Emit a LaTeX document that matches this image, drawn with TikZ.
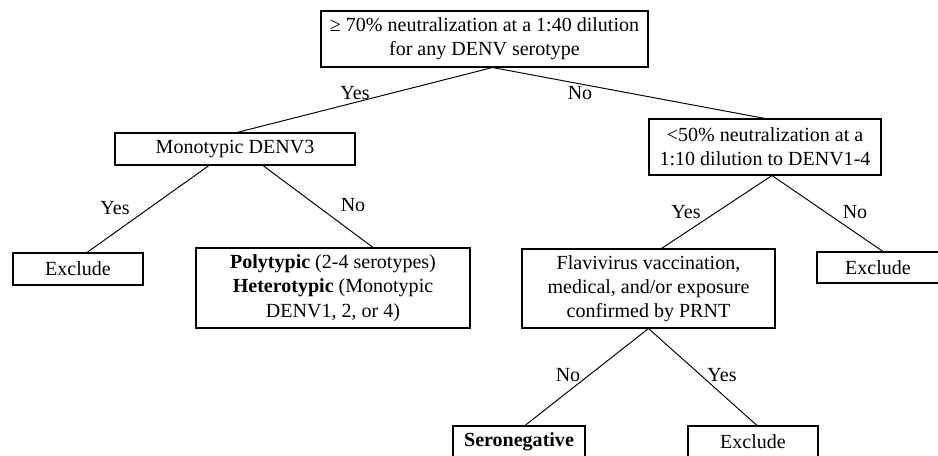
\documentclass[tikz,border=0pt]{standalone}
\usepackage{fontspec}
\setmainfont{Liberation Serif}
\usetikzlibrary{calc}

\begin{document}
\begin{tikzpicture}[x=0.02cm, y=-0.02cm,
  box/.style={draw, line width=0.6pt, align=center, font=\fontsize{11.4}{13.8}\selectfont,
              inner sep=1pt},
  lab/.style={font=\fontsize{11.4}{13.8}\selectfont, inner sep=1pt},
  ln/.style={line width=0.55pt}]
\useasboundingbox (0,0) rectangle (938,456);
\clip (0,0) rectangle (938,456);
% first question
\node[box, minimum width=327*0.02cm, minimum height=56*0.02cm] (top) at (484.5,39)
  {≥ 70\% neutralization at a 1:40 dilution\\for any DENV serotype};
% left branch
\node[box, minimum width=240*0.02cm, minimum height=32*0.02cm] (mono) at (235,149) {Monotypic DENV3};
\node[box, minimum width=130*0.02cm, minimum height=32*0.02cm] (excl1) at (78,269) {Exclude};
\node[box, minimum width=274*0.02cm, minimum height=80*0.02cm] (poly) at (333,288)
  {\textbf{Polytypic} (2-4 serotypes)\\\textbf{Heterotypic} (Monotypic\\DENV1, 2, or 4)};
% right branch
\node[box, minimum width=232*0.02cm, minimum height=56*0.02cm] (low) at (765,147)
  {<50\% neutralization at a\\1:10 dilution to DENV1-4};
\node[box, minimum width=253*0.02cm, minimum height=79*0.02cm] (flavi) at (648.5,288.5)
  {Flavivirus vaccination,\\medical, and/or exposure\\confirmed by PRNT};
\node[box, minimum width=122*0.02cm, minimum height=31*0.02cm] (excl2) at (878,267.5) {Exclude};
% bottom row
\node[box, minimum width=132*0.02cm, minimum height=32*0.02cm] (sero) at (519,442) {\textbf{Seronegative}};
\node[box, minimum width=130*0.02cm, minimum height=32*0.02cm] (excl3) at (753,442) {Exclude};
% connectors
\draw[ln] ($(top.south)+(8,0)$) -- ($(mono.north)+(2,0)$);
\draw[ln] ($(top.south)+(8,0)$) -- (low.north);
\draw[ln] ($(mono.south)+(-26,0)$) -- ($(excl1.north)+(9,0)$);
\draw[ln] ($(mono.south)+(28,0)$) -- ($(poly.north)+(40,0)$);
\draw[ln] ($(low.south)+(7,0)$) -- ($(flavi.north)+(13,0)$);
\draw[ln] ($(low.south)+(7,0)$) -- ($(excl2.north)+(5,0)$);
\draw[ln] (flavi.south) -- ($(sero.north)+(6,0)$);
\draw[ln] (flavi.south) -- ($(excl3.north)+(4,0)$);
% labels
\node[lab] (y1) at (355,93) {Yes};
\node[lab] (n1) at (580,93) {No};
\node[lab] (y2) at (115,208) {Yes};
\node[lab] (n2) at (353,205) {No};
\node[lab] (y3) at (686,212) {Yes};
\node[lab] (n3) at (855,212) {No};
\node[lab] (n4) at (568,375) {No};
\node[lab] (y4) at (722,375) {Yes};
\end{tikzpicture}
\end{document}
